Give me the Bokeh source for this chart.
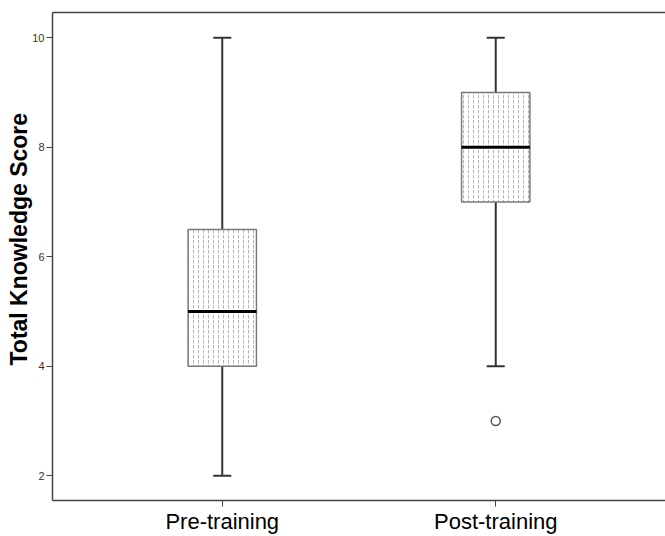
from bokeh.plotting import figure
from bokeh.models import (ColumnDataSource, FactorRange, Range1d, FixedTicker,
                          CategoricalAxis, Title)
from bokeh.transform import dodge
from bokeh.embed import file_html
from bokeh.resources import INLINE

# ---- data ----
categories = ["Pre-training", "Post-training"]
lower_whisker = [2, 4]
q1 = [4, 7]
median = [5, 8]
q3 = [6.5, 9]
upper_whisker = [10, 10]
outlier_cats = ["Post-training"]
outlier_vals = [3]
y_ticks = [2, 4, 6, 8, 10]
y_label = "Total Knowledge Score"

FONT = "Liberation Sans"
BOX_W = 0.25
CAP_W = 0.066

src = ColumnDataSource(dict(cat=categories, lo=lower_whisker, q1=q1, med=median,
                            q3=q3, hi=upper_whisker))

x_range = FactorRange(factors=categories, range_padding=0.1207,
                      range_padding_units="absolute")
p = figure(width=665, height=536, output_backend="svg", toolbar_location=None,
           x_range=x_range, y_range=Range1d(1.55, 10.46),
           min_border_left=52, min_border_right=0, min_border_top=12,
           min_border_bottom=34)
p.outline_line_color = None
p.grid.visible = False
p.background_fill_color = "white"
p.border_fill_color = "white"

# whisker stems
p.segment(x0="cat", x1="cat", y0="q3", y1="hi", source=src, line_color="#333333", line_width=2)
p.segment(x0="cat", x1="cat", y0="lo", y1="q1", source=src, line_color="#333333", line_width=2)
# caps
for col in ("hi", "lo"):
    p.segment(x0=dodge("cat", -CAP_W / 2, range=p.x_range),
              x1=dodge("cat", CAP_W / 2, range=p.x_range),
              y0=col, y1=col, source=src, line_color="#333333", line_width=2)
# boxes (dotted fill)
p.vbar(x="cat", width=BOX_W, bottom="q1", top="q3", source=src,
       fill_color="white", line_color="#7a7a7a", line_width=1.5,
       hatch_pattern="vertical_dash", hatch_color="#b4b4b4", hatch_scale=5,
       hatch_weight=1)
# median
p.segment(x0=dodge("cat", -BOX_W / 2, range=p.x_range),
          x1=dodge("cat", BOX_W / 2, range=p.x_range),
          y0="med", y1="med", source=src, line_color="black", line_width=3)
# outlier
p.scatter(x=outlier_cats, y=outlier_vals, marker="circle", size=9,
          fill_color="white", line_color="#555555", line_width=1.5)

# axes
p.yaxis.ticker = FixedTicker(ticks=y_ticks)
p.yaxis.minor_tick_line_color = None
p.yaxis.major_tick_out = 6
p.yaxis.major_tick_in = 0
p.yaxis.major_label_standoff = 2
p.yaxis.major_label_text_font = FONT
p.yaxis.major_label_text_font_size = "11px"
p.yaxis.major_label_text_color = "#333333"
for ax in (p.yaxis[0], p.xaxis[0]):
    ax.axis_line_color = "#444444"
    ax.axis_line_width = 1.5
    ax.major_tick_line_color = "#444444"
    ax.major_tick_line_width = 1

p.xaxis.major_tick_out = 6
p.xaxis.major_tick_in = 0
p.xaxis.major_label_standoff = 2
p.xaxis.major_label_text_font = FONT
p.xaxis.major_label_text_font_size = "22px"
p.xaxis.major_label_text_color = "black"

top_axis = CategoricalAxis(axis_line_color="#444444", axis_line_width=1.5,
                           major_tick_line_color=None, minor_tick_line_color=None,
                           major_label_text_color=None, major_label_text_font_size="1px",
                           major_label_standoff=0)
p.add_layout(top_axis, "above")

# y-axis title, anchored low and shifted up like the reference
p.add_layout(Title(text=y_label, align="left", offset=135, standoff=-4,
                   text_font=FONT, text_font_size="23px", text_font_style="bold",
                   text_color="black"), "left")

open("out.html", "w").write(file_html(p, INLINE))
